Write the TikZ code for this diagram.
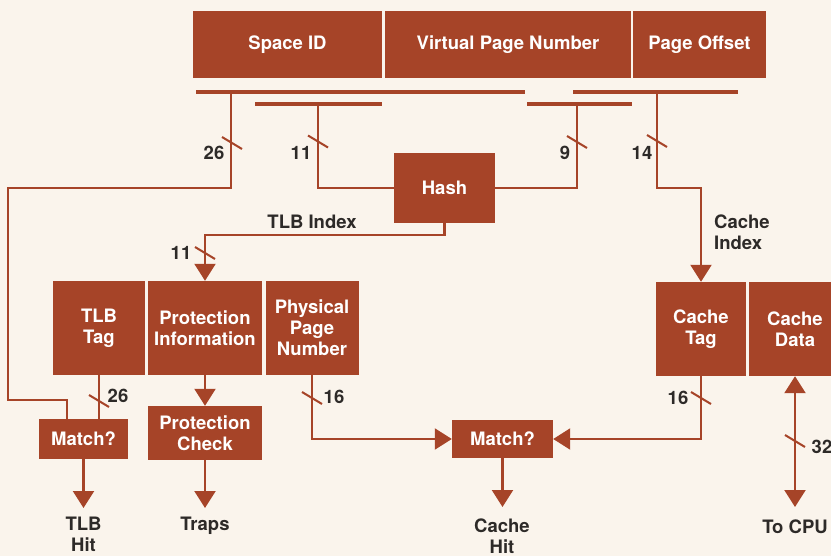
\documentclass[tikz,border=0pt]{standalone}
\usepackage{fontspec}
\setmainfont{TeX Gyre Heros}
\usetikzlibrary{arrows.meta}
\definecolor{rust}{RGB}{166,68,40}
\definecolor{paper}{RGB}{250,244,236}
\definecolor{ink}{RGB}{45,42,40}
\begin{document}
\begin{tikzpicture}[x=1pt,y=-1pt,
  box/.style={fill=rust, text=white, font=\bfseries\fontsize{18.5}{21}\selectfont, align=center, inner sep=0pt},
  lbl/.style={text=ink, font=\bfseries\fontsize{18.5}{21}\selectfont, align=center, inner sep=0pt},
  conn/.style={draw=rust, line width=2.2pt},
  bus/.style={draw=rust, line width=3.5pt},
  arr/.style={conn, -{Triangle[width=21pt,length=17pt]}},
  darr/.style={conn, {Triangle[width=21pt,length=17pt]}-{Triangle[width=21pt,length=17pt]}},
  slash/.style={draw=rust, line width=2pt}]
\fill[paper] (0,0) rectangle (831,556);
\clip (0,0) rectangle (831,556);
% boxes
\node[box, minimum width=189pt, minimum height=67pt] (sid) at (287.5,44.5) {Space ID};
\node[box, minimum width=246pt, minimum height=67pt] (vpn) at (508,44.5) {Virtual Page Number};
\node[box, minimum width=133pt, minimum height=67pt] (poff) at (699.5,44.5) {Page Offset};
\node[box, minimum width=101pt, minimum height=70pt] (hash) at (444.5,188) {Hash};
\node[box, minimum width=92pt, minimum height=94pt] (tlbtag) at (99,328) {TLB\\Tag};
\node[box, minimum width=114pt, minimum height=94pt] (prot) at (205,328) {Protection\\Information};
\node[box, minimum width=93pt, minimum height=94pt] (ppn) at (312,328) {Physical\\Page\\Number};
\node[box, minimum width=90pt, minimum height=94pt] (ctag) at (701,329) {Cache\\Tag};
\node[box, minimum width=92pt, minimum height=94pt] (cdata) at (795,329) {Cache\\Data};
\node[box, minimum width=89pt, minimum height=40pt] (match1) at (83.5,439) {Match?};
\node[box, minimum width=114pt, minimum height=54pt] (pcheck) at (205,433) {Protection\\Check};
\node[box, minimum width=101pt, minimum height=38pt] (match2) at (502.5,439) {Match?};
% labels
\node[lbl] (tlbhit) at (83.5,534) {TLB\\Hit};
\node[lbl] (traps) at (205,526) {Traps};
\node[lbl] (cachehit) at (502,536) {Cache\\Hit};
\node[lbl] (tocpu) at (795,527) {To CPU};
\node[lbl] (tlbidx) at (312,222) {TLB Index};
\node[lbl, align=left, anchor=west] (cidx) at (714,232) {Cache\\Index};
\node[lbl] (n26a) at (214,153) {26};
\node[lbl] (n11a) at (301,153) {11};
\node[lbl] (n9) at (565,153) {9};
\node[lbl] (n14) at (642,153) {14};
\node[lbl] (n11b) at (181,253) {11};
\node[lbl] (n26b) at (118,396) {26};
\node[lbl] (n16a) at (334,397) {16};
\node[lbl] (n16b) at (678,398) {16};
\node[lbl] (n32) at (822,447) {32};
% coordinates
\coordinate (bA1) at (196,92);  \coordinate (bA2) at (525,92);
\coordinate (bB1) at (255,104); \coordinate (bB2) at (382,104);
\coordinate (bC1) at (527,104); \coordinate (bC2) at (632,104);
\coordinate (bD1) at (573,92);  \coordinate (bD2) at (738,92);
\coordinate (d26) at (231,92);  \coordinate (d11) at (318,104);
\coordinate (d9) at (577,104);  \coordinate (d14) at (657,92);
\coordinate (k26a) at (231,188); \coordinate (k26b) at (8,188);
\coordinate (k26c) at (8,400);   \coordinate (k26d) at (67,400);
\coordinate (k14) at (657,188);
\coordinate (kti) at (444.5,235);
\coordinate (tlbhittip) at (83.5,508);
\coordinate (trapstip) at (205,508);
\coordinate (cachehittip) at (502.5,507);
\coordinate (cputip) at (795,507);
\coordinate (s26) at (232,143);  \coordinate (s11) at (318,141.5);
\coordinate (s9) at (577,142);   \coordinate (s14) at (657,141);
\coordinate (s11b) at (205,253); \coordinate (s26b) at (99,401);
\coordinate (s16a) at (312,398); \coordinate (s16b) at (701,398);
\coordinate (s32) at (795,441);
% buses
\draw[bus] (bA1) -- (bA2);
\draw[bus] (bB1) -- (bB2);
\draw[bus] (bC1) -- (bC2);
\draw[bus] (bD1) -- (bD2);
% connectors
\draw[conn] (d26) -- (k26a) -- (k26b) -- (k26c) -- (k26d) -- (k26d |- match1.north);
\draw[conn] (d11) |- (hash.west);
\draw[conn] (d9) |- (hash.east);
\draw[arr] (d14) -- (k14) -| (ctag.north);
\draw[arr] (hash.south) -- (kti) -| (prot.north);
\draw[conn] (tlbtag.south) -- (tlbtag.south |- match1.north);
\draw[arr] (prot.south) -- (pcheck.north);
\draw[arr] (ppn.south) |- (match2.west);
\draw[arr] (ctag.south) |- (match2.east);
\draw[arr] (match1.south) -- (tlbhittip);
\draw[arr] (pcheck.south) -- (trapstip);
\draw[arr] (match2.south) -- (cachehittip);
\draw[darr] (cdata.south) -- (cputip);
% slashes
\foreach \s in {s26,s11,s9,s14,s11b,s26b,s16a,s16b,s32}
  \draw[slash] (\s) ++(-10,-6) -- ++(20,12);
\end{tikzpicture}
\end{document}
